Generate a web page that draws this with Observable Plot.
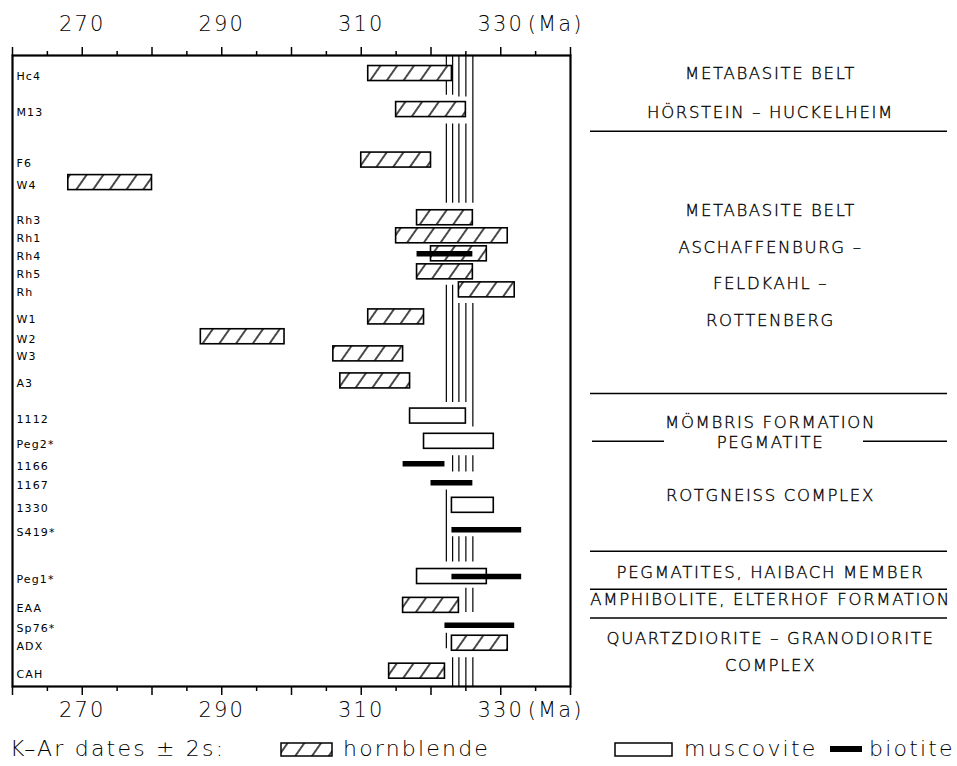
<!DOCTYPE html>
<html>
<head>
<meta charset="utf-8">
<script src="https://cdn.jsdelivr.net/npm/d3@7"></script>
<script src="https://cdn.jsdelivr.net/npm/@observablehq/plot@0.6"></script>
<style>
  body { margin: 0; background: #fff; }
  #chart { position: relative; width: 957px; height: 766px; background: #fff; overflow: hidden; }
  #chart svg text { letter-spacing: 0.1em; }
  #chart svg text.grp { letter-spacing: 0.13em; }
  #legend { position: absolute; left: 0; top: 735px; width: 957px; height: 31px;
            font-family: "DejaVu Sans"; font-weight: 200; font-size: 22px; letter-spacing: 0.1em; color: #000; }
  #legend .it { position: absolute; top: 0; line-height: 27px; white-space: nowrap; }
  #legend svg { position: absolute; }
</style>
</head>
<body>
<div id="chart"></div>
<script>
// ---- data ----
const rowLabels = ["Hc4","M13","F6","W4","Rh3","Rh1","Rh4","Rh5","Rh","W1","W2","W3","A3",
                   "1112","Peg2*","1166","1167","1330","S419*","Peg1*","EAA","Sp76*","ADX","CAH"];
const rowPos = [1.0,3.0,5.8,7.05,9.0,10.0,11.0,12.0,13.0,14.5,15.6,16.55,18.05,
                20.0,21.4,22.65,23.7,24.95,26.3,28.9,30.5,31.6,32.6,34.15];

// hornblende K-Ar dates (lower / upper bound, Ma)
const hbSample = ["Hc4","M13","F6","W4","Rh3","Rh1","Rh4","Rh5","Rh","W1","W2","W3","A3","EAA","ADX","CAH"];
const hbLow  = [311,315,310,268,318,315,320,318,324,311,287,306,307,316,323,314];
const hbHigh = [323,325,320,280,326,331,328,326,332,319,299,316,317,324,331,322];

// muscovite
const muSample = ["1112","Peg2*","1330","Peg1*"];
const muLow  = [317,319,323,318];
const muHigh = [325,329,329,328];

// biotite
const btSample = ["Rh4","1166","1167","S419*","Peg1*","Sp76*"];
const btLow  = [318,316,320,323,323,322];
const btHigh = [326,322,326,333,333,332];

// reference ages (vertical lines) and their visible segments (row units)
const refAges = [322.2, 323.1, 324.0, 325.0, 326.0];
const segLines = [[0,1],[2,3],[4],[0,1,2,3],[0,1],[2,3],[4],[1,2,3,4],[0],[1,2,3,4],[3,4],[0],[1,2,3,4]];
const segFrom  = [0,   0,   0,   3.8, 12.75,13.75,13.75,22.2,24.1,26.7,29.55,32.05,33.4];
const segTo    = [2.2, 2.3, 8.2, 8.2, 19.25,19.25,20.6, 23.1,28.1,28.1,30.9, 32.9, 35];

// axis ticks
const majorTicks = [260,270,280,290,300,310,320,330,340];
const minorTicks = [265,275,285,295,305,315,325,335];
const tickLabels = [270,290,310,330];

// right-hand unit annotations
const groupText = ["METABASITE BELT","HÖRSTEIN – HUCKELHEIM","METABASITE BELT","ASCHAFFENBURG –",
  "FELDKAHL –","ROTTENBERG","MÖMBRIS FORMATION","PEGMATITE","ROTGNEISS COMPLEX",
  "PEGMATITES, HAIBACH MEMBER","AMPHIBOLITE, ELTERHOF FORMATION","QUARTZDIORITE – GRANODIORITE","COMPLEX"];
const groupTextPos = [1.0,3.16,8.6,10.65,12.65,14.7,20.35,21.5,24.4,28.7,30.2,32.35,33.85];
const groupLinePos = [4.2,18.75,27.5,29.6,31.2];
const splitLinePos = [21.4];

// ---- build tables ----
const posOf = new Map(rowLabels.map((l, i) => [l, rowPos[i]]));
const rows = rowLabels.map((l, i) => ({label: l, pos: rowPos[i]}));
const hb = hbSample.map((s, i) => ({s, pos: posOf.get(s), lo: hbLow[i], hi: hbHigh[i]}));
const mu = muSample.map((s, i) => ({s, pos: posOf.get(s), lo: muLow[i], hi: muHigh[i]}));
const bt = btSample.map((s, i) => ({s, pos: posOf.get(s), lo: btLow[i], hi: btHigh[i]}));
const segs = segLines.flatMap((ls, i) => ls.map(k => ({age: refAges[k], from: segFrom[i], to: segTo[i]})));
const groups = groupText.map((t, i) => ({t, pos: groupTextPos[i]}));

const font = "DejaVu Sans";
const plot = Plot.plot({
  width: 957, height: 735,
  marginLeft: 12, marginRight: 387, marginTop: 55, marginBottom: 49,
  x: {domain: [260, 340], label: null},
  y: {domain: [0, 35], reverse: true, axis: null, label: null},
  style: {fontFamily: font, background: "white", color: "black"},
  marks: [
    Plot.ruleX(segs, {x: "age", y1: "from", y2: "to", stroke: "black", strokeWidth: 1.2}),
    Plot.rect(hb, {x1: "lo", x2: "hi", y1: "pos", y2: "pos", insetTop: -7.5, insetBottom: -7.5,
                   fill: "url(#hatch)", stroke: "black", strokeWidth: 1.6}),
    Plot.rect(mu, {x1: "lo", x2: "hi", y1: "pos", y2: "pos", insetTop: -7.5, insetBottom: -7.5,
                   fill: "white", stroke: "black", strokeWidth: 1.6}),
    Plot.ruleY(bt, {y: "pos", x1: "lo", x2: "hi", stroke: "black", strokeWidth: 5.5}),
    Plot.frame({stroke: "black", strokeWidth: 2.2}),
    Plot.axisX({anchor: "top", ticks: majorTicks, tickSize: 9, tickPadding: 16, strokeWidth: 1.5,
                tickFormat: d => tickLabels.includes(d) ? String(d) : "", fontSize: 21, fontWeight: 200, fontFamily: font}),
    Plot.axisX({anchor: "top", ticks: minorTicks, tickSize: 5, strokeWidth: 1.5, tickFormat: () => ""}),
    Plot.axisX({anchor: "bottom", ticks: majorTicks, tickSize: 9, tickPadding: 7, strokeWidth: 1.5,
                tickFormat: d => tickLabels.includes(d) ? String(d) : "", fontSize: 21, fontWeight: 200, fontFamily: font}),
    Plot.axisX({anchor: "bottom", ticks: minorTicks, tickSize: 5, strokeWidth: 1.5, tickFormat: () => ""}),
    Plot.text([330], {x: d => d, text: () => "(Ma)", frameAnchor: "top", lineAnchor: "bottom", dy: -25, dx: 27,
                      textAnchor: "start", fontSize: 21, fontWeight: 200, fontFamily: font}),
    Plot.text([330], {x: d => d, text: () => "(Ma)", frameAnchor: "bottom", lineAnchor: "top", dy: 16, dx: 27,
                      textAnchor: "start", fontSize: 21, fontWeight: 200, fontFamily: font}),
    Plot.text(rows, {y: "pos", text: "label", frameAnchor: "left", dx: 4, dy: 3, textAnchor: "start",
                     fontSize: 11, fontFamily: font}),
    Plot.text(groups, {y: "pos", text: "t", frameAnchor: "right", dx: 200, textAnchor: "middle",
                       fontSize: 16.5, fontWeight: 200, fontFamily: font, className: "grp"}),
    Plot.ruleY(groupLinePos, {y: d => d, dx: 578, insetRight: 201, stroke: "black", strokeWidth: 1.5}),
    Plot.ruleY(splitLinePos, {y: d => d, dx: 580, insetRight: 486, stroke: "black", strokeWidth: 1.5}),
    Plot.ruleY(splitLinePos, {y: d => d, dx: 578, insetLeft: 273, insetRight: 201, stroke: "black", strokeWidth: 1.5})
  ]
});

// hatch pattern definition
const defs = d3.create("svg:defs");
const pat = defs.append("pattern").attr("id", "hatch").attr("patternUnits", "userSpaceOnUse")
  .attr("width", 13.7).attr("height", 20).attr("patternTransform", "rotate(35)");
pat.append("rect").attr("width", 13.7).attr("height", 20).attr("fill", "white");
pat.append("line").attr("x1", 6.85).attr("x2", 6.85).attr("y1", 0).attr("y2", 20)
  .attr("stroke", "black").attr("stroke-width", 1.4);
plot.insertBefore(defs.node(), plot.firstChild);
// group label text: heavier strokes like the plotter font
d3.select(plot).selectAll("g.grp text, text.grp").style("stroke", "black").style("stroke-width", 0.35);

const chart = document.getElementById("chart");
chart.appendChild(plot);

// legend
const legend = document.createElement("div");
legend.id = "legend";
legend.innerHTML = `
  <span class="it" style="left:10px">K–Ar dates ± 2s:</span>
  <svg style="left:280px;top:7px" width="54" height="16">
    <defs><pattern id="hatch2" patternUnits="userSpaceOnUse" width="13.7" height="20" patternTransform="rotate(35)">
      <rect width="13.7" height="20" fill="white"/><line x1="6.85" x2="6.85" y1="0" y2="20" stroke="black" stroke-width="1.4"/></pattern></defs>
    <rect x="1" y="1" width="51" height="13" fill="url(#hatch2)" stroke="black" stroke-width="1.5"/>
  </svg>
  <span class="it" style="left:343px">hornblende</span>
  <svg style="left:614px;top:7px" width="60" height="16">
    <rect x="1" y="1" width="57" height="13" fill="white" stroke="black" stroke-width="1.5"/>
  </svg>
  <span class="it" style="left:684px">muscovite</span>
  <svg style="left:830px;top:11px" width="34" height="7">
    <rect x="0" y="0" width="32" height="6" fill="black"/>
  </svg>
  <span class="it" style="left:869px">biotite</span>`;
chart.appendChild(legend);
</script>
</body>
</html>
